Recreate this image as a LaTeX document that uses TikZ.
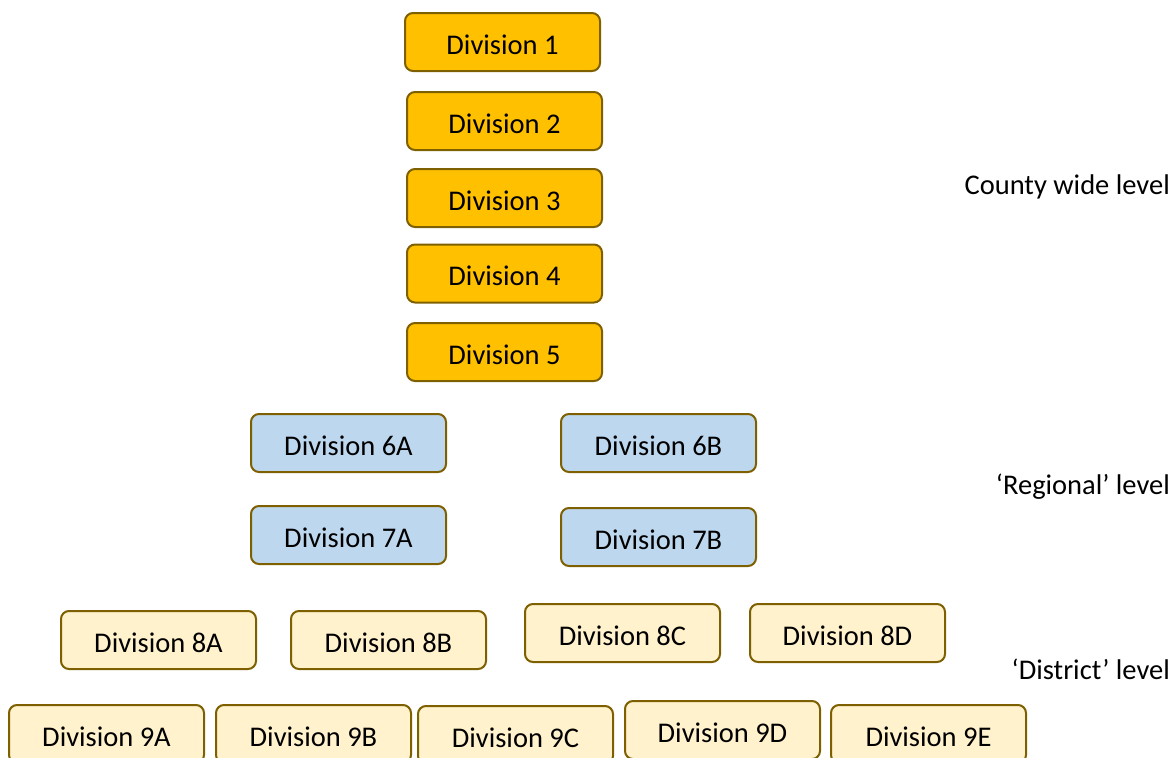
\documentclass[tikz,border=0pt]{standalone}
\usepackage{fontspec}
\setmainfont{Carlito}
\definecolor{bordc}{HTML}{7F6000}
\definecolor{goldf}{HTML}{FFC000}
\definecolor{bluef}{HTML}{BDD7EE}
\definecolor{creamf}{HTML}{FFF2CC}
\tikzset{
  divbox/.style={draw=bordc, line width=2pt, rounded corners=8pt, minimum width=195pt, minimum height=58pt, inner sep=0pt, text height=28pt, text depth=3.6pt, font=\fontsize{28.5}{32}\selectfont, text=black},
  gold/.style={divbox, fill=goldf},
  blue/.style={divbox, fill=bluef},
  cream/.style={divbox, fill=creamf},
  lvl/.style={anchor=east, inner sep=0pt, font=\fontsize{28.5}{32}\selectfont, text=black}
}
\begin{document}
\begin{tikzpicture}[x=1pt,y=-1pt]
\useasboundingbox (0,0) rectangle (1176,758);
\clip (0,0) rectangle (1176,758);
\fill[white] (0,0) rectangle (1176,758);
\node[gold] (d1) at (502.5,42) {Division 1};
\node[gold] (d2) at (504.5,121) {Division 2};
\node[gold] (d3) at (504.5,198) {Division 3};
\node[gold] (d4) at (504.5,273.5) {Division 4};
\node[gold] (d5) at (504.5,352) {Division 5};
\node[blue] (d6a) at (348.5,443) {Division 6A};
\node[blue] (d6b) at (658.5,443) {Division 6B};
\node[blue] (d7a) at (348.5,535) {Division 7A};
\node[blue] (d7b) at (658.5,537) {Division 7B};
\node[cream] (d8a) at (158.5,640) {Division 8A};
\node[cream] (d8b) at (388.5,640) {Division 8B};
\node[cream] (d8c) at (622.5,633) {Division 8C};
\node[cream] (d8d) at (847.5,633) {Division 8D};
\node[cream] (d9a) at (106.5,734) {Division 9A};
\node[cream] (d9b) at (313.5,734) {Division 9B};
\node[cream] (d9c) at (515.5,735) {Division 9C};
\node[cream] (d9d) at (722.5,730) {Division 9D};
\node[cream] (d9e) at (928.5,734) {Division 9E};
\node[lvl] (l1) at (1170,187) {County wide level};
\node[lvl] (l2) at (1170,487) {‘Regional’ level};
\node[lvl] (l3) at (1170,669) {‘District’ level};
\end{tikzpicture}
\end{document}
